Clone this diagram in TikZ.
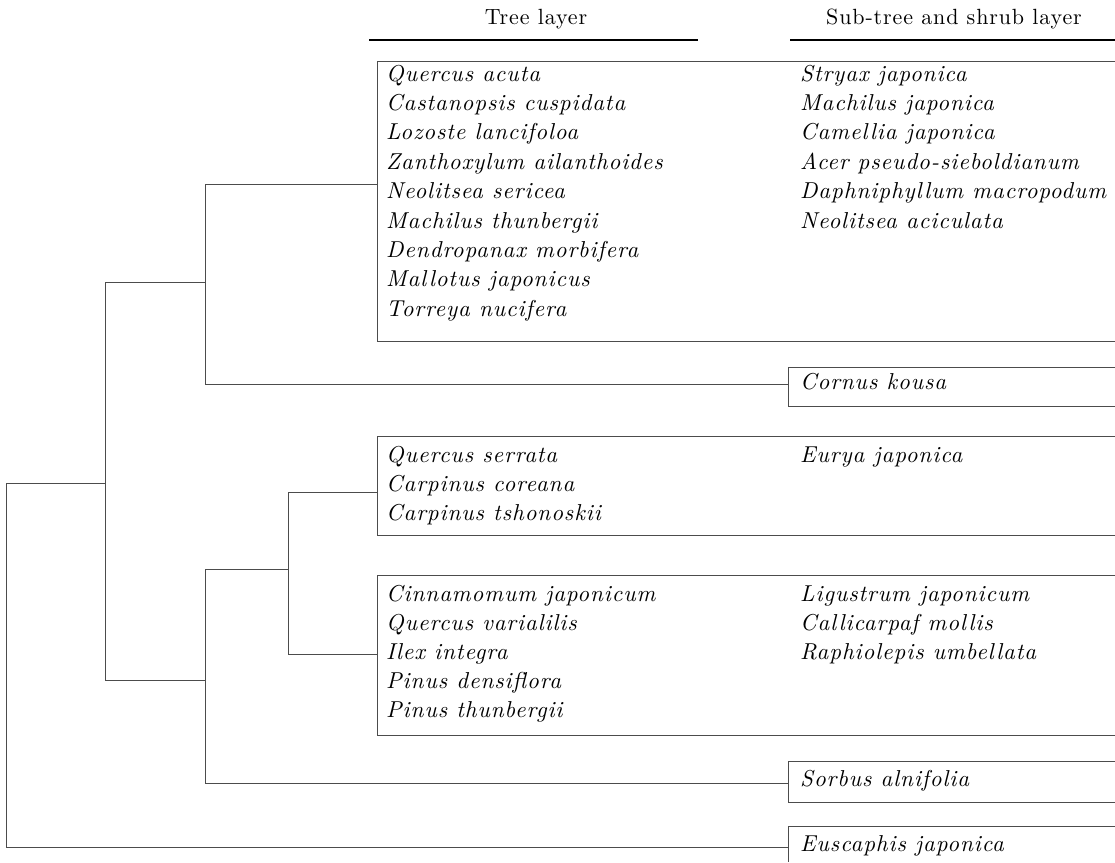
\documentclass[tikz,border=0pt]{standalone}
\usepackage{fontspec}
\setmainfont{lmroman10-regular.otf}[ItalicFont=lmroman10-italic.otf, LetterSpace=4]
\begin{document}
\begin{tikzpicture}[x=1pt,y=-1pt,
  sp/.style={font=\fontsize{23}{26}\selectfont\itshape, anchor=mid west, inner sep=0pt, text=black},
  hd/.style={font=\fontsize{22}{25}\selectfont, inner sep=0pt, text=black},
  ln/.style={draw=black!70, line width=0.8pt},
  rule/.style={draw=black, line width=2.2pt}]
\useasboundingbox (0,0) rectangle (1115,862);
% headers
\node[hd] (h1) at (536,19) {Tree layer};
\node[hd] (h2) at (954,19) {Sub-tree and shrub layer};
\coordinate (u1a) at (369,40); \coordinate (u1b) at (698,40);
\coordinate (u2a) at (790,40); \coordinate (u2b) at (1115,40);
\draw[rule] (u1a) -- (u1b);
\draw[rule] (u2a) -- (u2b);
% box 1
\draw[ln] (1115,61) -- (377,61) -- (377,341) -- (1115,341);
\foreach \t [count=\i from 0] in {Quercus acuta, Castanopsis cuspidata, Lozoste lancifoloa, Zanthoxylum ailanthoides, Neolitsea sericea, Machilus thunbergii, Dendropanax morbifera, Mallotus japonicus, Torreya nucifera}
  \node[sp] (a\i) at (386,{79+29.4*\i}) {\t};
\foreach \t [count=\i from 0] in {Stryax japonica, Machilus japonica, Camellia japonica, Acer pseudo-sieboldianum, Daphniphyllum macropodum, Neolitsea aciculata}
  \node[sp] (b\i) at (800,{79+29.4*\i}) {\t};
% Cornus box
\draw[ln] (1115,367) -- (788,367) -- (788,406) -- (1115,406);
\node[sp] (ck) at (800,387) {Cornus kousa};
% box 2
\draw[ln] (1115,436) -- (377,436) -- (377,535) -- (1115,535);
\foreach \t [count=\i from 0] in {Quercus serrata, Carpinus coreana, Carpinus tshonoskii}
  \node[sp] (c\i) at (386,{460+29.4*\i}) {\t};
\node[sp] (d0) at (800,460) {Eurya japonica};
% box 3
\draw[ln] (1115,575) -- (377,575) -- (377,735) -- (1115,735);
\foreach \t [count=\i from 0] in {Cinnamomum japonicum, Quercus varialilis, Ilex integra, Pinus densiflora, Pinus thunbergii}
  \node[sp] (e\i) at (386,{599+29.2*\i}) {\t};
\foreach \t [count=\i from 0] in {Ligustrum japonicum, Callicarpaf mollis, Raphiolepis umbellata}
  \node[sp] (f\i) at (800,{599+29.2*\i}) {\t};
% Sorbus box
\draw[ln] (1115,761) -- (788,761) -- (788,802) -- (1115,802);
\node[sp] (sa) at (800,784) {Sorbus alnifolia};
% Euscaphis box
\draw[ln] (1115,826) -- (788,826) -- (788,862);
\node[sp] (ej) at (800,849) {Euscaphis japonica};
% dendrogram coordinates
\coordinate (k1a) at (205,184); \coordinate (k1b) at (377,184);
\coordinate (k2a) at (205,384); \coordinate (k2b) at (788,384);
\coordinate (k3a) at (105,282);
\coordinate (k4a) at (105,680);
\coordinate (k5a) at (6,483);
\coordinate (k5b) at (6,847); \coordinate (k5c) at (788,847);
\coordinate (k6a) at (205,569); \coordinate (k6b) at (288,569);
\coordinate (k7a) at (205,783); \coordinate (k7b) at (788,783);
\coordinate (k8a) at (288,492); \coordinate (k8b) at (377,492);
\coordinate (k9a) at (288,654); \coordinate (k9b) at (377,654);
\draw[ln] (k1b) -- (k1a) -- (k2a) -- (k2b);
\draw[ln] (k3a) -- (k3a -| k1a);
\draw[ln] (k3a) -- (k4a) -- (k4a -| k6a);
\draw[ln] (k5a) -- (k5a -| k3a);
\draw[ln] (k5a) -- (k5b) -- (k5c);
\draw[ln] (k6b) -- (k6a) -- (k7a) -- (k7b);
\draw[ln] (k8b) -- (k8a) -- (k9a) -- (k9b);
\end{tikzpicture}
\end{document}
